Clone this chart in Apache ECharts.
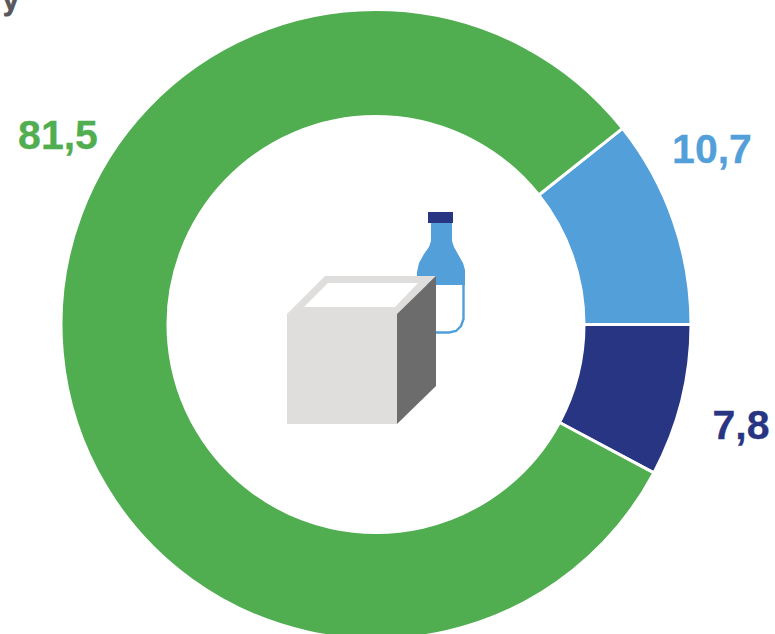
<!DOCTYPE html>
<html><head><meta charset="utf-8">
<style>html,body{margin:0;padding:0;background:#fff;overflow:hidden}#c{width:775px;height:634px}</style>
<script src="https://cdn.jsdelivr.net/npm/echarts@6/dist/echarts.min.js"></script>
</head><body><div id="c"></div>
<script>
const categories = ['Blue', 'Navy', 'Green'];
const values = [10.7, 7.8, 81.5];
const labels = ['10,7', '7,8', '81,5'];
const colors = ['#529FD9', '#283583', '#50AE51'];
const labelPos = [[712, 149], [741, 425], [58, 135]];

const chart = echarts.init(document.getElementById('c'), null, {renderer: 'svg'});
const font = '"Liberation Sans", Arial, sans-serif';
chart.setOption({
  animation: false,
  backgroundColor: '#fff',
  series: [{
    type: 'pie',
    center: [376, 324.5],
    radius: [208, 315],
    startAngle: 38.5,
    clockwise: true,
    silent: true,
    itemStyle: {borderColor: '#fff', borderWidth: 3},
    label: {show: true, position: 'inside', fontFamily: font, fontWeight: 'bold', fontSize: 41},
    labelLine: {show: false},
    labelLayout: p => ({x: labelPos[p.dataIndex][0], y: labelPos[p.dataIndex][1], align: 'center', verticalAlign: 'middle'}),
    data: categories.map((n, i) => ({
      name: n, value: values[i],
      itemStyle: {color: colors[i]},
      label: {formatter: labels[i], color: colors[i], textBorderColor: colors[i], textBorderWidth: 0.3}
    }))
  }],
  graphic: [
    {type: 'text', x: 3, y: -14, style: {text: 'y', font: 'bold 28px ' + font, fill: '#58585a', stroke: '#58585a', lineWidth: 0.8}},
    {type: 'polyline', shape: {points: [[463.5, 285], [463.5, 319], [461, 326], [456, 331], [449, 332.5], [417, 332.5]]}, style: {fill: 'none', stroke: '#529FD9', lineWidth: 2.4}, z: 10},
    {type: 'polygon', shape: {points: [[431, 222], [452, 222], [452, 241], [454, 247], [459, 256], [463, 263], [465, 270], [465, 285], [417, 285], [417, 272], [419, 263], [424, 254], [429, 247], [431, 241]]}, style: {fill: '#529FD9'}, z: 11},
    {type: 'rect', shape: {x: 428, y: 212, width: 25, height: 11}, style: {fill: '#283583'}, z: 12},
    {type: 'polygon', shape: {points: [[287, 314], [325, 276], [436, 276], [397, 314]]}, style: {fill: '#dfdedc'}, z: 20},
    {type: 'polygon', shape: {points: [[304, 307], [328, 283], [418, 283], [395, 307]]}, style: {fill: '#fff'}, z: 21},
    {type: 'rect', shape: {x: 287, y: 314, width: 110, height: 110}, style: {fill: '#dfdedc'}, z: 22},
    {type: 'polygon', shape: {points: [[397, 314], [436, 276], [436, 386], [397, 424]]}, style: {fill: '#6c6c6c'}, z: 23}
  ]
});
</script></body></html>
